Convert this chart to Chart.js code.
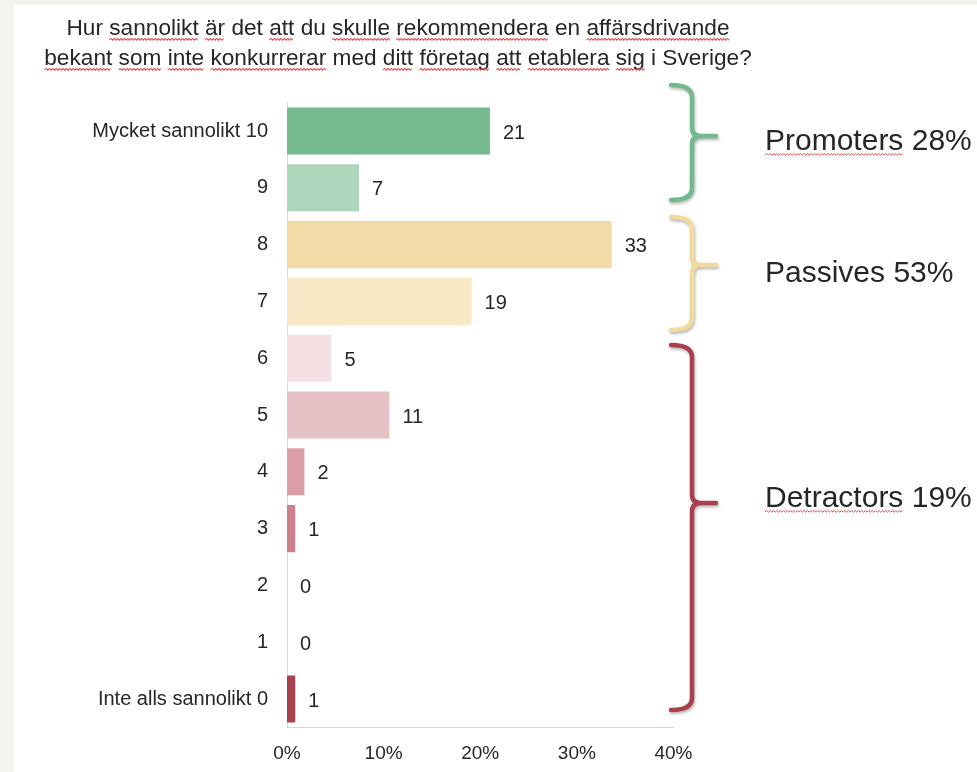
<!DOCTYPE html>
<html>
<head>
<meta charset="utf-8">
<script src="https://cdn.jsdelivr.net/npm/chart.js@4"></script>
<style>
body{margin:0;background:#f4f3ef}
#c{position:absolute;left:0;top:0}
</style>
</head>
<body>
<canvas id="c" width="977" height="772"></canvas>
<script>
// bar lengths in % and the numbers printed next to them
let labels=["Mycket sannolikt 10","9","8","7","6","5","4","3","2","1","Inte alls sannolikt 0"]
let shares=[21.0,7.45,33.6,19.1,4.6,10.6,1.8,0.85,0,0,0.85]
let counts=[21,7,33,19,5,11,2,1,0,0,1]
let colors=["#75b98f","#acd5bb","#f3dba8","#f7e8c6","#f4dfe2","#e6c1c6","#d99ea6","#cd7f89","#cd7f89","#cd7f89","#a8404e"]
let xTicks=[0,10,20,30,40]

let titleLines=[
"Hur sannolikt är det att du skulle rekommendera en affärsdrivande",
"bekant som inte konkurrerar med ditt företag att etablera sig i Sverige?"
]
let squiggleWords=["sannolikt","är","att","skulle","rekommendera","affärsdrivande","bekant","som","inte","konkurrerar","ditt","företag","etablera","sig","Promoters","Detractors"]

let groups=[
{name:"Promoters",pct:28,color:"#72b98c",top:85,mid:136,bottom:200,labelY:150},
{name:"Passives",pct:53,color:"#f2d99c",top:217,mid:265,bottom:330,labelY:282},
{name:"Detractors",pct:19,color:"#a8404e",top:345,mid:503,bottom:710,labelY:507}
]

const FONT="'Liberation Sans', Arial, sans-serif"
const TXT="#262626"

Chart.defaults.font.family=FONT
Chart.defaults.color=TXT

function squiggle(ctx,x1,x2,y,sx){
ctx.save()
ctx.strokeStyle="#e8474c"
ctx.lineWidth=1
ctx.beginPath()
let up=true
ctx.moveTo(x1,y)
let step=1.7/sx
for(let x=x1+step;x<=x2;x+=step){
ctx.lineTo(x,up?y-1.5:y+0.2)
up=!up
}
ctx.stroke()
ctx.restore()
}

// one line of text from x (horizontally scaled by sx), red squiggles under flagged words
function textLine(ctx,text,x,y,sx){
ctx.save()
ctx.translate(x,y)
ctx.scale(sx,1)
ctx.fillText(text,0,0)
let pos=0
text.split(" ").forEach(w=>{
let clean=w.replace(/[?]/g,"")
if(squiggleWords.includes(clean)){
let x1=ctx.measureText(text.slice(0,pos)).width
let x2=x1+ctx.measureText(clean).width
squiggle(ctx,x1,x2,5,sx)
}
pos+=w.length+1
})
ctx.restore()
}

const deco={
id:"deco",
beforeDraw(chart){
let ctx=chart.ctx
ctx.save()
ctx.fillStyle="#f4f3ef"
ctx.fillRect(0,0,chart.width,chart.height)
ctx.fillStyle="#ffffff"
ctx.fillRect(14,5,chart.width-14,chart.height-5)
ctx.restore()
},
afterDatasetsDraw(chart){
let ctx=chart.ctx
let meta=chart.getDatasetMeta(0)

/* value labels */
ctx.save()
ctx.font="20px "+FONT
ctx.fillStyle=TXT
ctx.textAlign="left"
ctx.textBaseline="middle"
meta.data.forEach((bar,i)=>{
ctx.fillText(String(counts[i]),bar.x+13,bar.y+2)
})
ctx.restore()

/* title */
ctx.save()
ctx.font="22px "+FONT
ctx.fillStyle=TXT
ctx.textBaseline="alphabetic"
ctx.textAlign="left"
let sx=663/ctx.measureText(titleLines[0]).width
titleLines.forEach((t,i)=>{
let w=ctx.measureText(t).width*sx
textLine(ctx,t,398-w/2,35+i*30,sx)
})
ctx.restore()

/* brackets */
groups.forEach(g=>{
ctx.save()
ctx.strokeStyle=g.color
ctx.lineWidth=4.5
ctx.lineCap="round"
ctx.lineJoin="round"
ctx.shadowColor="rgba(0,0,0,0.28)"
ctx.shadowBlur=3
ctx.shadowOffsetX=1
ctx.shadowOffsetY=2
let vx=692
ctx.beginPath()
ctx.moveTo(671,g.top)
ctx.quadraticCurveTo(vx,g.top,vx,g.top+12)
ctx.lineTo(vx,g.mid-8)
ctx.quadraticCurveTo(vx,g.mid,vx+10,g.mid)
ctx.lineTo(716,g.mid)
ctx.moveTo(vx+10,g.mid)
ctx.quadraticCurveTo(vx,g.mid,vx,g.mid+8)
ctx.lineTo(vx,g.bottom-12)
ctx.quadraticCurveTo(vx,g.bottom,671,g.bottom)
ctx.stroke()
ctx.restore()

ctx.save()
ctx.font="30px "+FONT
ctx.fillStyle=TXT
ctx.textBaseline="alphabetic"
ctx.textAlign="left"
textLine(ctx,g.name+" "+g.pct+"%",765,g.labelY,1)
ctx.restore()
})
}
}

new Chart(document.getElementById("c"),{
type:"bar",
data:{
labels:labels,
datasets:[{
data:shares,
backgroundColor:colors,
borderWidth:0,
barPercentage:0.83,
categoryPercentage:1
}]
},
options:{
indexAxis:"y",
responsive:false,
animation:false,
devicePixelRatio:1,
layout:{padding:{top:102.6,right:303.5,left:0,bottom:0}},
plugins:{legend:{display:false},tooltip:{enabled:false}},
scales:{
x:{
min:0,max:40,
afterBuildTicks(s){s.ticks=xTicks.map(v=>({value:v}))},
afterFit(s){s.height=44.6},
grid:{display:false,drawTicks:false},
border:{display:true,color:"#d9d9d9",width:1},
ticks:{padding:15,font:{size:19},color:TXT,callback:v=>v+"%"}
},
y:{
afterFit(s){s.width=287},
grid:{display:false,drawTicks:false},
border:{display:true,color:"#d9d9d9",width:1},
ticks:{padding:19,font:{size:20},color:TXT}
}
}
},
plugins:[deco]
})
</script>
</body>
</html>
